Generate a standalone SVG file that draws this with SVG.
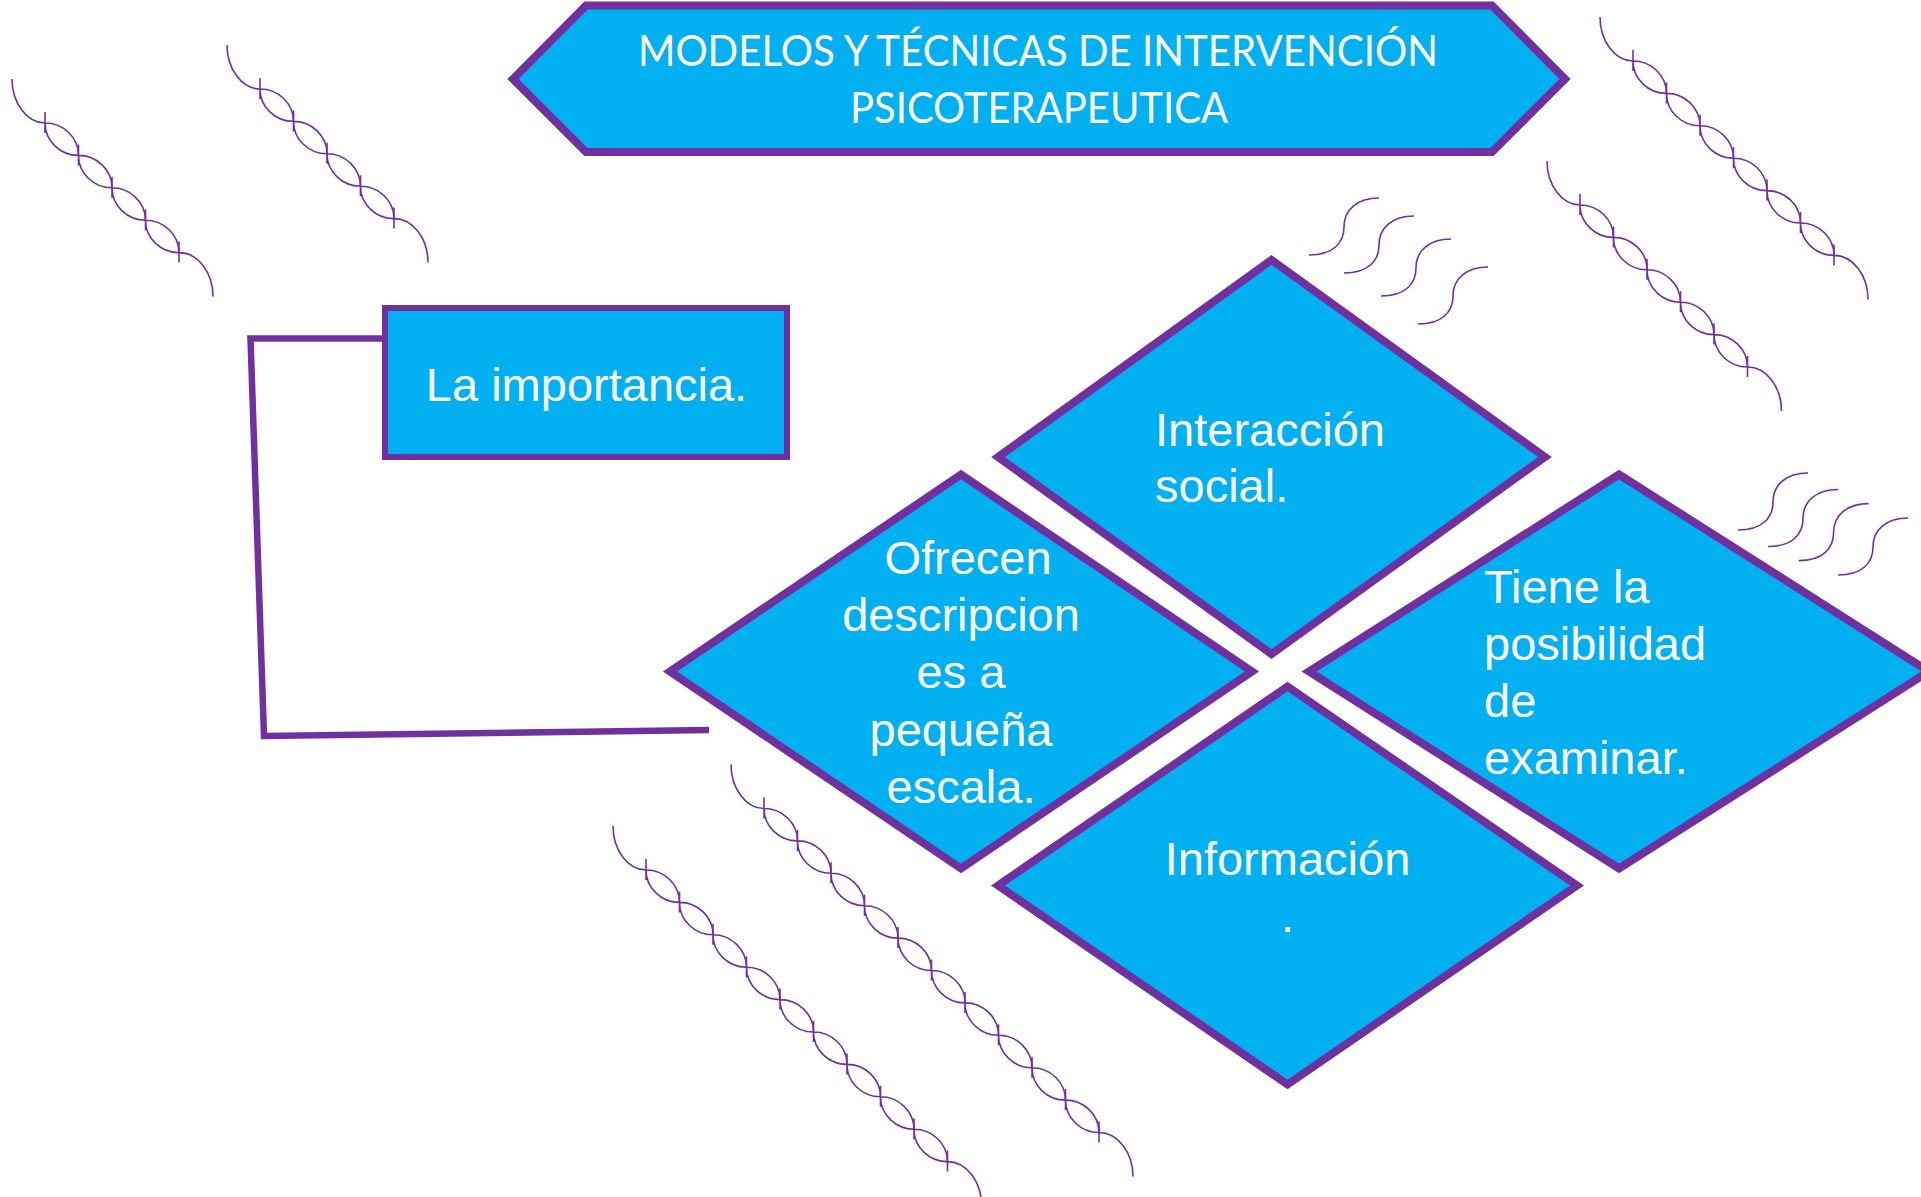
<svg xmlns="http://www.w3.org/2000/svg" width="1921" height="1197" viewBox="0 0 1921 1197">
<style>
.shape{fill:#00B0F0;stroke:#7030A0;stroke-width:8;stroke-linejoin:miter;stroke-miterlimit:10}
.box{fill:#00B0F0;stroke:#7030A0;stroke-width:6}
.lbl{font-family:"Liberation Sans",Arial,sans-serif;font-size:47px;fill:#FFFFFF}
.ttl{font-family:Lato,"Open Sans",sans-serif;font-size:42px;fill:#FFFFFF}
.deco{fill:none;stroke:#7030A0;stroke-width:1.6}
.conn{fill:none;stroke:#7030A0;stroke-width:6.5;stroke-linejoin:miter}
</style>
<defs>
<path id="cell" d="M0,0 C18.4,0 33.5,14.6 33.5,32.4 M0,0 C0,17.8 15.1,32.4 33.5,32.4 M0,-11 V10"/>
<path id="tailS" d="M-33,-44 C-33,-20 -18,0 0,0"/>
<path id="tailE" d="M0,0 C18.7,0 34,19.8 34,44 M0,-11 V10"/>
<path id="wave" d="M0,0 C24,0 35,-12 35,-28 C35,-45 48,-57 70,-57"/>
</defs>
<rect width="1921" height="1197" fill="#FFFFFF"/>

<g id="decorations" class="deco">
<g transform="translate(45,123)"><use href="#tailS"/><use href="#cell"/><use href="#cell" x="33.5" y="32.4"/><use href="#cell" x="67" y="64.8"/><use href="#cell" x="100.5" y="97.2"/><use href="#tailE" x="134" y="129.6"/></g>
<g transform="translate(260,89)"><use href="#tailS"/><use href="#cell"/><use href="#cell" x="33.5" y="32.4"/><use href="#cell" x="67" y="64.8"/><use href="#cell" x="100.5" y="97.2"/><use href="#tailE" x="134" y="129.6"/></g>
<g transform="translate(1633,61)"><use href="#tailS"/><use href="#cell"/><use href="#cell" x="33.5" y="32.4"/><use href="#cell" x="67" y="64.8"/><use href="#cell" x="100.5" y="97.2"/><use href="#cell" x="134" y="129.6"/><use href="#cell" x="167.5" y="162"/><use href="#tailE" x="201" y="194.4"/></g>
<g transform="translate(1580,205)"><use href="#tailS"/><use href="#cell"/><use href="#cell" x="33.5" y="32.4"/><use href="#cell" x="67" y="64.8"/><use href="#cell" x="100.5" y="97.2"/><use href="#cell" x="134" y="129.6"/><use href="#tailE" x="167.5" y="162"/></g>
<g transform="translate(646,870)"><use href="#tailS"/><use href="#cell"/><use href="#cell" x="33.5" y="32.4"/><use href="#cell" x="67" y="64.8"/><use href="#cell" x="100.5" y="97.2"/><use href="#cell" x="134" y="129.6"/><use href="#cell" x="167.5" y="162"/><use href="#cell" x="201" y="194.4"/><use href="#cell" x="234.5" y="226.8"/><use href="#cell" x="268" y="259.2"/><use href="#tailE" x="301.5" y="291.6"/></g>
<g transform="translate(764,808.5)"><use href="#tailS"/><use href="#cell"/><use href="#cell" x="33.5" y="32.4"/><use href="#cell" x="67" y="64.8"/><use href="#cell" x="100.5" y="97.2"/><use href="#cell" x="134" y="129.6"/><use href="#cell" x="167.5" y="162"/><use href="#cell" x="201" y="194.4"/><use href="#cell" x="234.5" y="226.8"/><use href="#cell" x="268" y="259.2"/><use href="#cell" x="301.5" y="291.6"/><use href="#tailE" x="335" y="324"/></g>
<use href="#wave" x="1309" y="255"/><use href="#wave" x="1344" y="273"/><use href="#wave" x="1381" y="296"/><use href="#wave" x="1418" y="324"/>
<use href="#wave" x="1738" y="530"/><use href="#wave" x="1768" y="546.5"/><use href="#wave" x="1798.6" y="560.6"/><use href="#wave" x="1838" y="575"/>
</g>

<g id="connectors">
<polyline class="conn" points="385,338.5 250.5,338.5 264,736 709,730"/>
</g>

<g id="title">
<polygon class="shape" points="513,79 586,5.5 1492,5.5 1565,79 1492,152 586,152"/>
<text class="ttl" x="638" y="66" textLength="800" lengthAdjust="spacingAndGlyphs">MODELOS Y TÉCNICAS DE INTERVENCIÓN</text>
<text class="ttl" x="850" y="123" textLength="378" lengthAdjust="spacingAndGlyphs">PSICOTERAPEUTICA</text>
</g>

<g id="importancia">
<rect class="box" x="385" y="308" width="402" height="149"/>
<text class="lbl" x="586.5" y="401" text-anchor="middle">La importancia.</text>
</g>

<g id="interaccion">
<polygon class="shape" points="1271.5,260 1545,457 1271.5,654 998,457"/>
<text class="lbl" x="1155" y="446">Interacción</text>
<text class="lbl" x="1155" y="502">social.</text>
</g>

<g id="ofrecen">
<polygon class="shape" points="961,474.5 1252,671.5 961,868.5 670,671.5"/>
<text class="lbl" text-anchor="middle"><tspan x="968" y="574">Ofrecen</tspan><tspan x="961" y="631">descripcion</tspan><tspan x="961" y="688">es a</tspan><tspan x="961" y="746">pequeña</tspan><tspan x="961" y="803">escala.</tspan></text>
</g>

<g id="tiene">
<polygon class="shape" points="1619,474.5 1929,671.5 1619,868.5 1309,671.5"/>
<text class="lbl"><tspan x="1484" y="603">Tiene la</tspan><tspan x="1484" y="660">posibilidad</tspan><tspan x="1484" y="717">de</tspan><tspan x="1484" y="774">examinar.</tspan></text>
</g>

<g id="informacion">
<polygon class="shape" points="1287.5,686.5 1577,885.5 1287.5,1084.5 998,885.5"/>
<text class="lbl" text-anchor="middle"><tspan x="1287.5" y="875">Información</tspan><tspan x="1287.5" y="932">.</tspan></text>
</g>
</svg>
